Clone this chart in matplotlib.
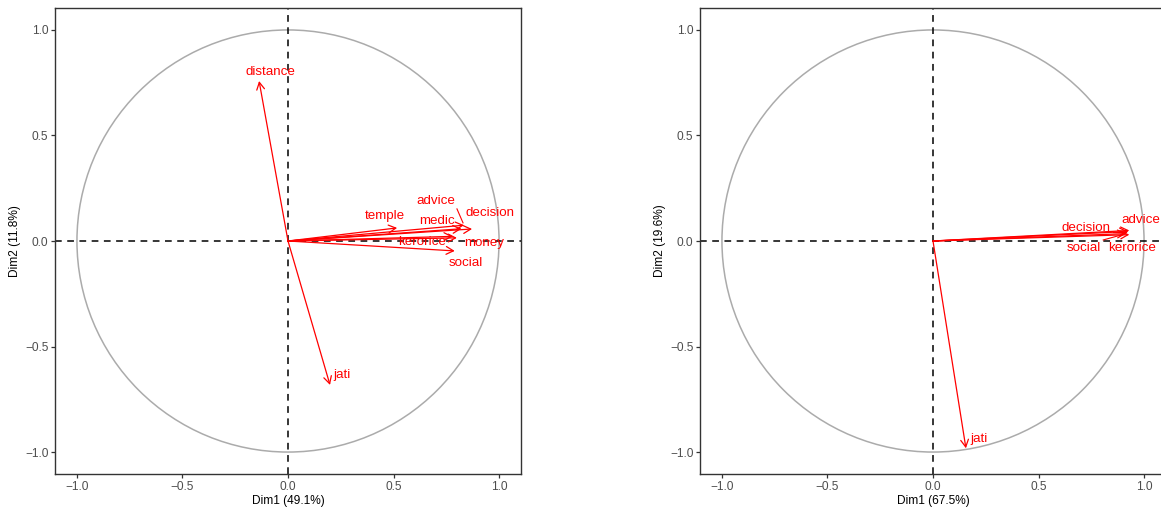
import numpy as np
import matplotlib
matplotlib.use("Agg")
import matplotlib.pyplot as plt
from matplotlib.patches import FancyArrowPatch, Circle

plt.rcParams['font.family'] = ['Liberation Sans', 'DejaVu Sans']

# ---------------- data ----------------
vars_left = ['distance', 'jati', 'temple', 'advice', 'medic', 'decision', 'kerorice', 'money', 'social']
dim1_left = [-0.137, 0.199, 0.517, 0.834, 0.822, 0.872, 0.780, 0.800, 0.790]
dim2_left = [0.758, -0.682, 0.062, 0.075, 0.058, 0.057, 0.022, 0.015, -0.047]
xlabel_left = 'Dim1 (49.1%)'
ylabel_left = 'Dim2 (11.8%)'

vars_right = ['jati', 'advice', 'decision', 'social', 'kerorice']
dim1_right = [0.156, 0.930, 0.925, 0.915, 0.930]
dim2_right = [-0.982, 0.050, 0.045, 0.035, 0.030]
xlabel_right = 'Dim1 (67.5%)'
ylabel_right = 'Dim2 (19.6%)'

tick_vals = [-1.0, -0.5, 0.0, 0.5, 1.0]
tick_labels = ['\u22121.0', '\u22120.5', '0.0', '0.5', '1.0']

# label placement (repelled text positions, data units) and connector flags
lab_left = {'distance': (-0.083, 0.800), 'jati': (0.258, -0.635), 'temple': (0.460, 0.118),
            'advice': (0.699, 0.190), 'medic': (0.706, 0.095), 'decision': (0.957, 0.133),
            'kerorice': (0.637, -0.005), 'money': (0.929, -0.010), 'social': (0.843, -0.104)}
seg_left = {'advice'}
lab_right = {'jati': (0.218, -0.940), 'advice': (0.986, 0.100), 'decision': (0.725, 0.062),
             'social': (0.716, -0.033), 'kerorice': (0.945, -0.033)}
seg_right = {'decision', 'social'}

W, H = 1161, 507
fig = plt.figure(figsize=(W / 100, H / 100), dpi=100)
fig.patch.set_facecolor('white')

LIM = 1.104
ax_w, ax_h = 466 / W, 466 / H
bottom = 1 - 474 / H
axL = fig.add_axes([55 / W, bottom, ax_w, ax_h])
axR = fig.add_axes([700 / W, bottom, ax_w, ax_h])


def draw(ax, names, xs, ys, labpos, segs, xl, yl):
    ax.set_xlim(-LIM, LIM)
    ax.set_ylim(-LIM, LIM)
    ax.set_facecolor('white')
    ax.add_patch(Circle((0, 0), 1.0, fill=False, edgecolor='#ABABAB', lw=1.1, zorder=1))
    ax.axhline(0, color='black', lw=1.1, dashes=(4.4, 3.6), zorder=2)
    ax.axvline(0, color='black', lw=1.1, dashes=(4.4, 3.6), zorder=2)
    for n, x, y in zip(names, xs, ys):
        ar = FancyArrowPatch((0, 0), (x, y), arrowstyle='->,head_length=5.2,head_width=2.8',
                             color='red', lw=0.9, shrinkA=0, shrinkB=0, zorder=3,
                             mutation_scale=1)
        ax.add_patch(ar)
    fig.canvas.draw()
    r = fig.canvas.get_renderer()
    for n, x, y in zip(names, xs, ys):
        lx, ly = labpos[n]
        t = ax.text(lx, ly, n, color='red', fontsize=9.6, ha='center', va='center', zorder=4)
        if n in segs:
            bb = t.get_window_extent(r)
            tip = ax.transData.transform((x, y))
            pad = 2
            px = min(max(tip[0], bb.x0 - pad), bb.x1 + pad)
            py = min(max(tip[1], bb.y0 - pad), bb.y1 + pad)
            v = tip - np.array([px, py])
            d = np.hypot(*v)
            end = tip - v / d * 2.5
            inv = ax.transData.inverted()
            p0 = inv.transform((px, py))
            p1 = inv.transform(end)
            ax.plot([p0[0], p1[0]], [p0[1], p1[1]], color='red', lw=0.8, zorder=4)
    ax.set_xticks(tick_vals)
    ax.set_xticklabels(tick_labels)
    ax.set_yticks(tick_vals)
    ax.set_yticklabels(tick_labels)
    ax.tick_params(axis='both', length=3, width=0.9, color='#333333', labelcolor='#4D4D4D',
                   labelsize=8.6, pad=1.8)
    for s in ax.spines.values():
        s.set_color('#333333')
        s.set_linewidth(1.0)
    ax.set_xlabel(xl, fontsize=8.6, color='black', labelpad=1.5)
    ax.set_ylabel(yl, fontsize=8.6, color='black', labelpad=3)


draw(axL, vars_left, dim1_left, dim2_left, lab_left, seg_left, xlabel_left, ylabel_left)
draw(axR, vars_right, dim1_right, dim2_right, lab_right, seg_right, xlabel_right, ylabel_right)
axR.spines['right'].set_visible(False)

fig.savefig('out.png', dpi=100, facecolor='white')
